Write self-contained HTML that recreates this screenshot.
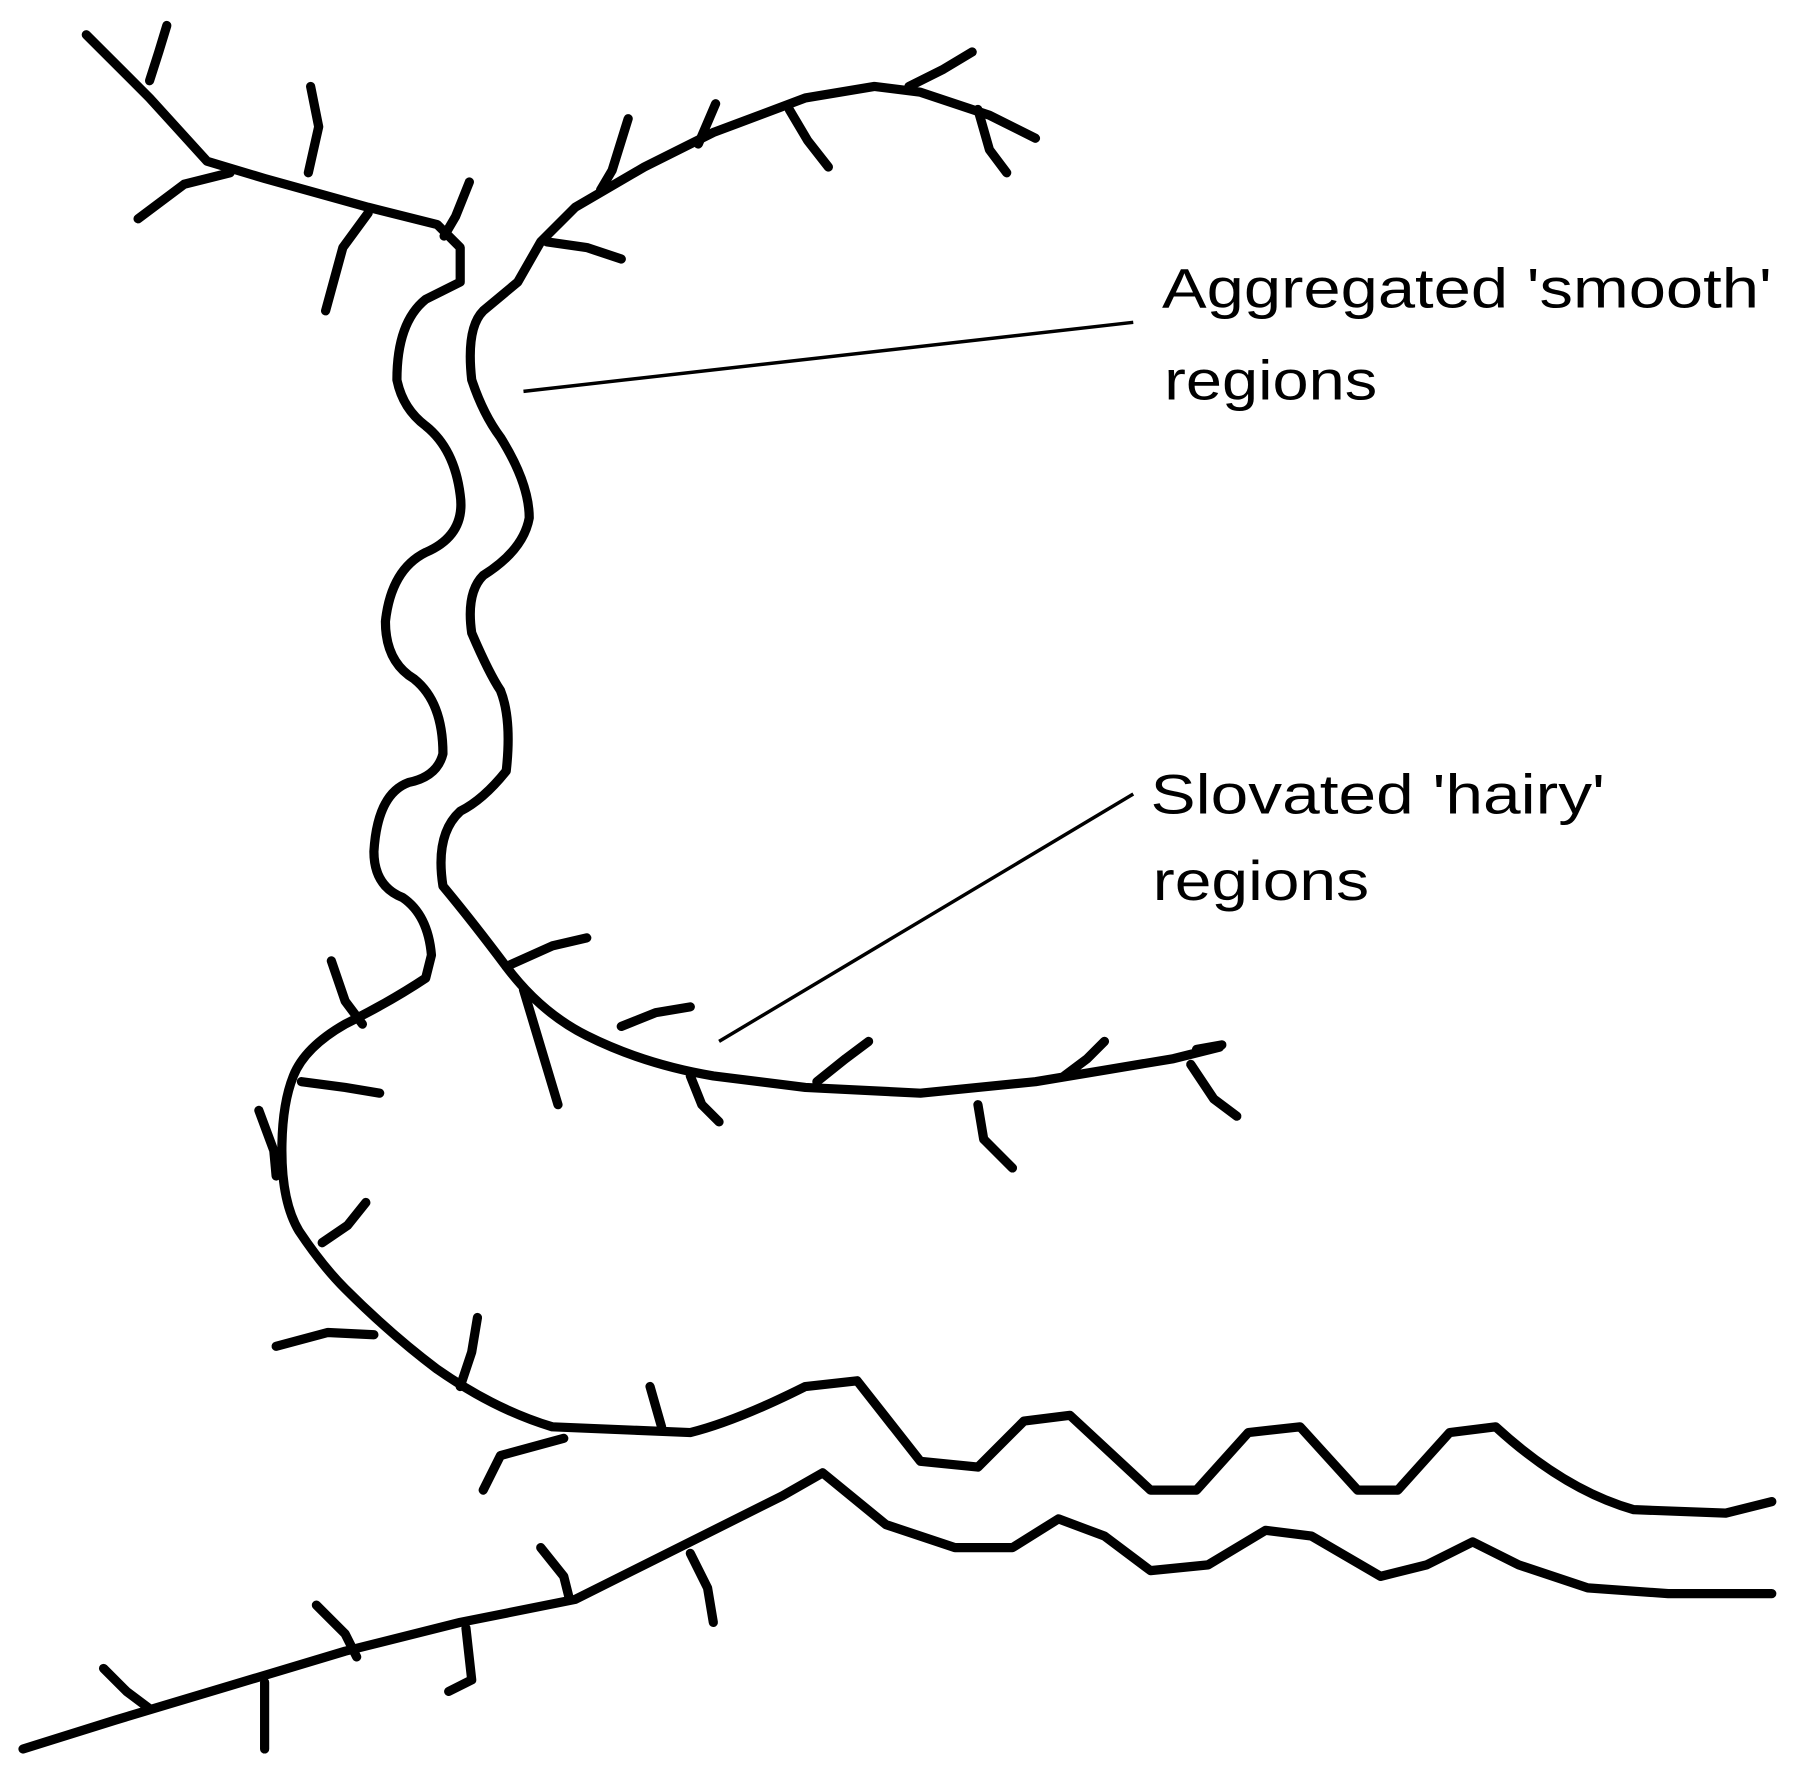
<!DOCTYPE html>
<html><head><meta charset="utf-8"><style>
html,body{margin:0;padding:0;background:#fff;}
svg{display:block;}
text{font-family:"Liberation Sans",sans-serif;font-size:48px;fill:#000;}
</style></head><body>
<svg width="1804" height="1771" viewBox="0 0 1568 1539" xmlns="http://www.w3.org/2000/svg">
<g fill="none" stroke="#000" stroke-width="8" stroke-linecap="round" stroke-linejoin="round">
<path d="M75,30 L130,85 L180,140 L230,155 L320,180 L380,195 L400,215 L400,245 L370,260 Q345,280 345,330 Q350,355 370,370 Q395,390 400,430 Q405,465 370,480 Q340,495 335,540 Q335,575 360,590 Q385,610 385,655 Q380,675 355,680 Q328,690 325,740 Q325,770 350,780 Q372,795 375,830 L370,850 Q340,870 300,890 Q265,910 255,935 Q245,960 245,1000 Q245,1045 260,1070 Q280,1100 300,1120 Q340,1160 380,1190 Q430,1225 480,1240 L600,1245 Q640,1235 700,1205 L745,1200 L800,1270 L850,1275 L890,1235 L930,1230 L1000,1295 L1040,1295 L1085,1245 L1130,1240 L1180,1295 L1215,1295 L1260,1245 L1300,1240 Q1360,1295 1420,1312 L1500,1315 L1540,1305"/>
<path d="M900,120 L860,100 L800,80 L760,75 L700,85 L620,115 L560,145 L500,180 L470,210 L450,245 L420,270 Q405,285 410,330 Q420,360 435,380 Q460,420 460,450 Q455,478 420,500 Q405,515 410,550 Q425,585 435,600 Q445,625 440,670 Q420,695 400,705 Q378,725 385,770 Q410,800 440,840 Q470,880 510,900 Q560,925 620,935 L700,945 L800,950 L900,940 L960,930 L1020,920 L1060,910"/>
<path d="M20,1520 L100,1495 L200,1465 L300,1435 L400,1410 L500,1390 L560,1360 L620,1330 L680,1300 L715,1280 L770,1325 L830,1345 L880,1345 L920,1320 L960,1335 L1000,1365 L1050,1360 L1100,1330 L1140,1335 L1200,1370 L1240,1360 L1280,1340 L1320,1360 L1380,1380 L1450,1385 L1540,1385"/>
<path d="M145,22 L138,45 L130,70"/>
<path d="M120,190 L160,160 L200,150"/>
<path d="M270,75 L277,110 L268,150"/>
<path d="M320,185 L298,215 L283,270"/>
<path d="M408,158 L396,188 L386,205"/>
<path d="M546,103 L532,148 L522,165"/>
<path d="M622,90 L607,125"/>
<path d="M686,95 L702,122 L720,145"/>
<path d="M790,75 L820,60 L845,45"/>
<path d="M850,95 L860,130 L875,150"/>
<path d="M475,210 L510,215 L540,225"/>
<path d="M288,835 L300,870 L315,890"/>
<path d="M262,940 L300,945 L330,950"/>
<path d="M225,965 L238,1000 L240,1022"/>
<path d="M280,1080 L302,1065 L318,1045"/>
<path d="M240,1170 L285,1158 L325,1160"/>
<path d="M415,1145 L410,1175 L400,1205"/>
<path d="M440,840 L480,822 L510,815"/>
<path d="M455,860 L470,910 L485,960"/>
<path d="M540,892 L570,880 L600,875"/>
<path d="M600,935 L610,960 L625,975"/>
<path d="M710,940 L735,920 L755,905"/>
<path d="M850,960 L855,990 L880,1015"/>
<path d="M925,935 L945,920 L960,905"/>
<path d="M1035,925 L1055,955 L1075,970"/>
<path d="M1040,912 L1062,908"/>
<path d="M565,1205 L575,1240"/>
<path d="M420,1295 L435,1265 L490,1250"/>
<path d="M90,1450 L110,1470 L130,1485"/>
<path d="M230,1462 L230,1520"/>
<path d="M275,1395 L300,1420 L310,1440"/>
<path d="M405,1415 L410,1460 L390,1470"/>
<path d="M470,1345 L490,1370 L495,1390"/>
<path d="M600,1350 L615,1380 L620,1410"/>
</g>
<g stroke="#000" stroke-width="3">
<line x1="455" y1="340" x2="985" y2="280"/>
<line x1="625" y1="905" x2="985" y2="690"/>
</g>
<text x="1010" y="267" textLength="530" lengthAdjust="spacingAndGlyphs">Aggregated 'smooth'</text>
<text x="1012" y="347" textLength="185" lengthAdjust="spacingAndGlyphs">regions</text>
<text x="1000" y="707" textLength="395" lengthAdjust="spacingAndGlyphs">Slovated 'hairy'</text>
<text x="1002" y="782" textLength="188" lengthAdjust="spacingAndGlyphs">regions</text>
</svg>
</body></html>
